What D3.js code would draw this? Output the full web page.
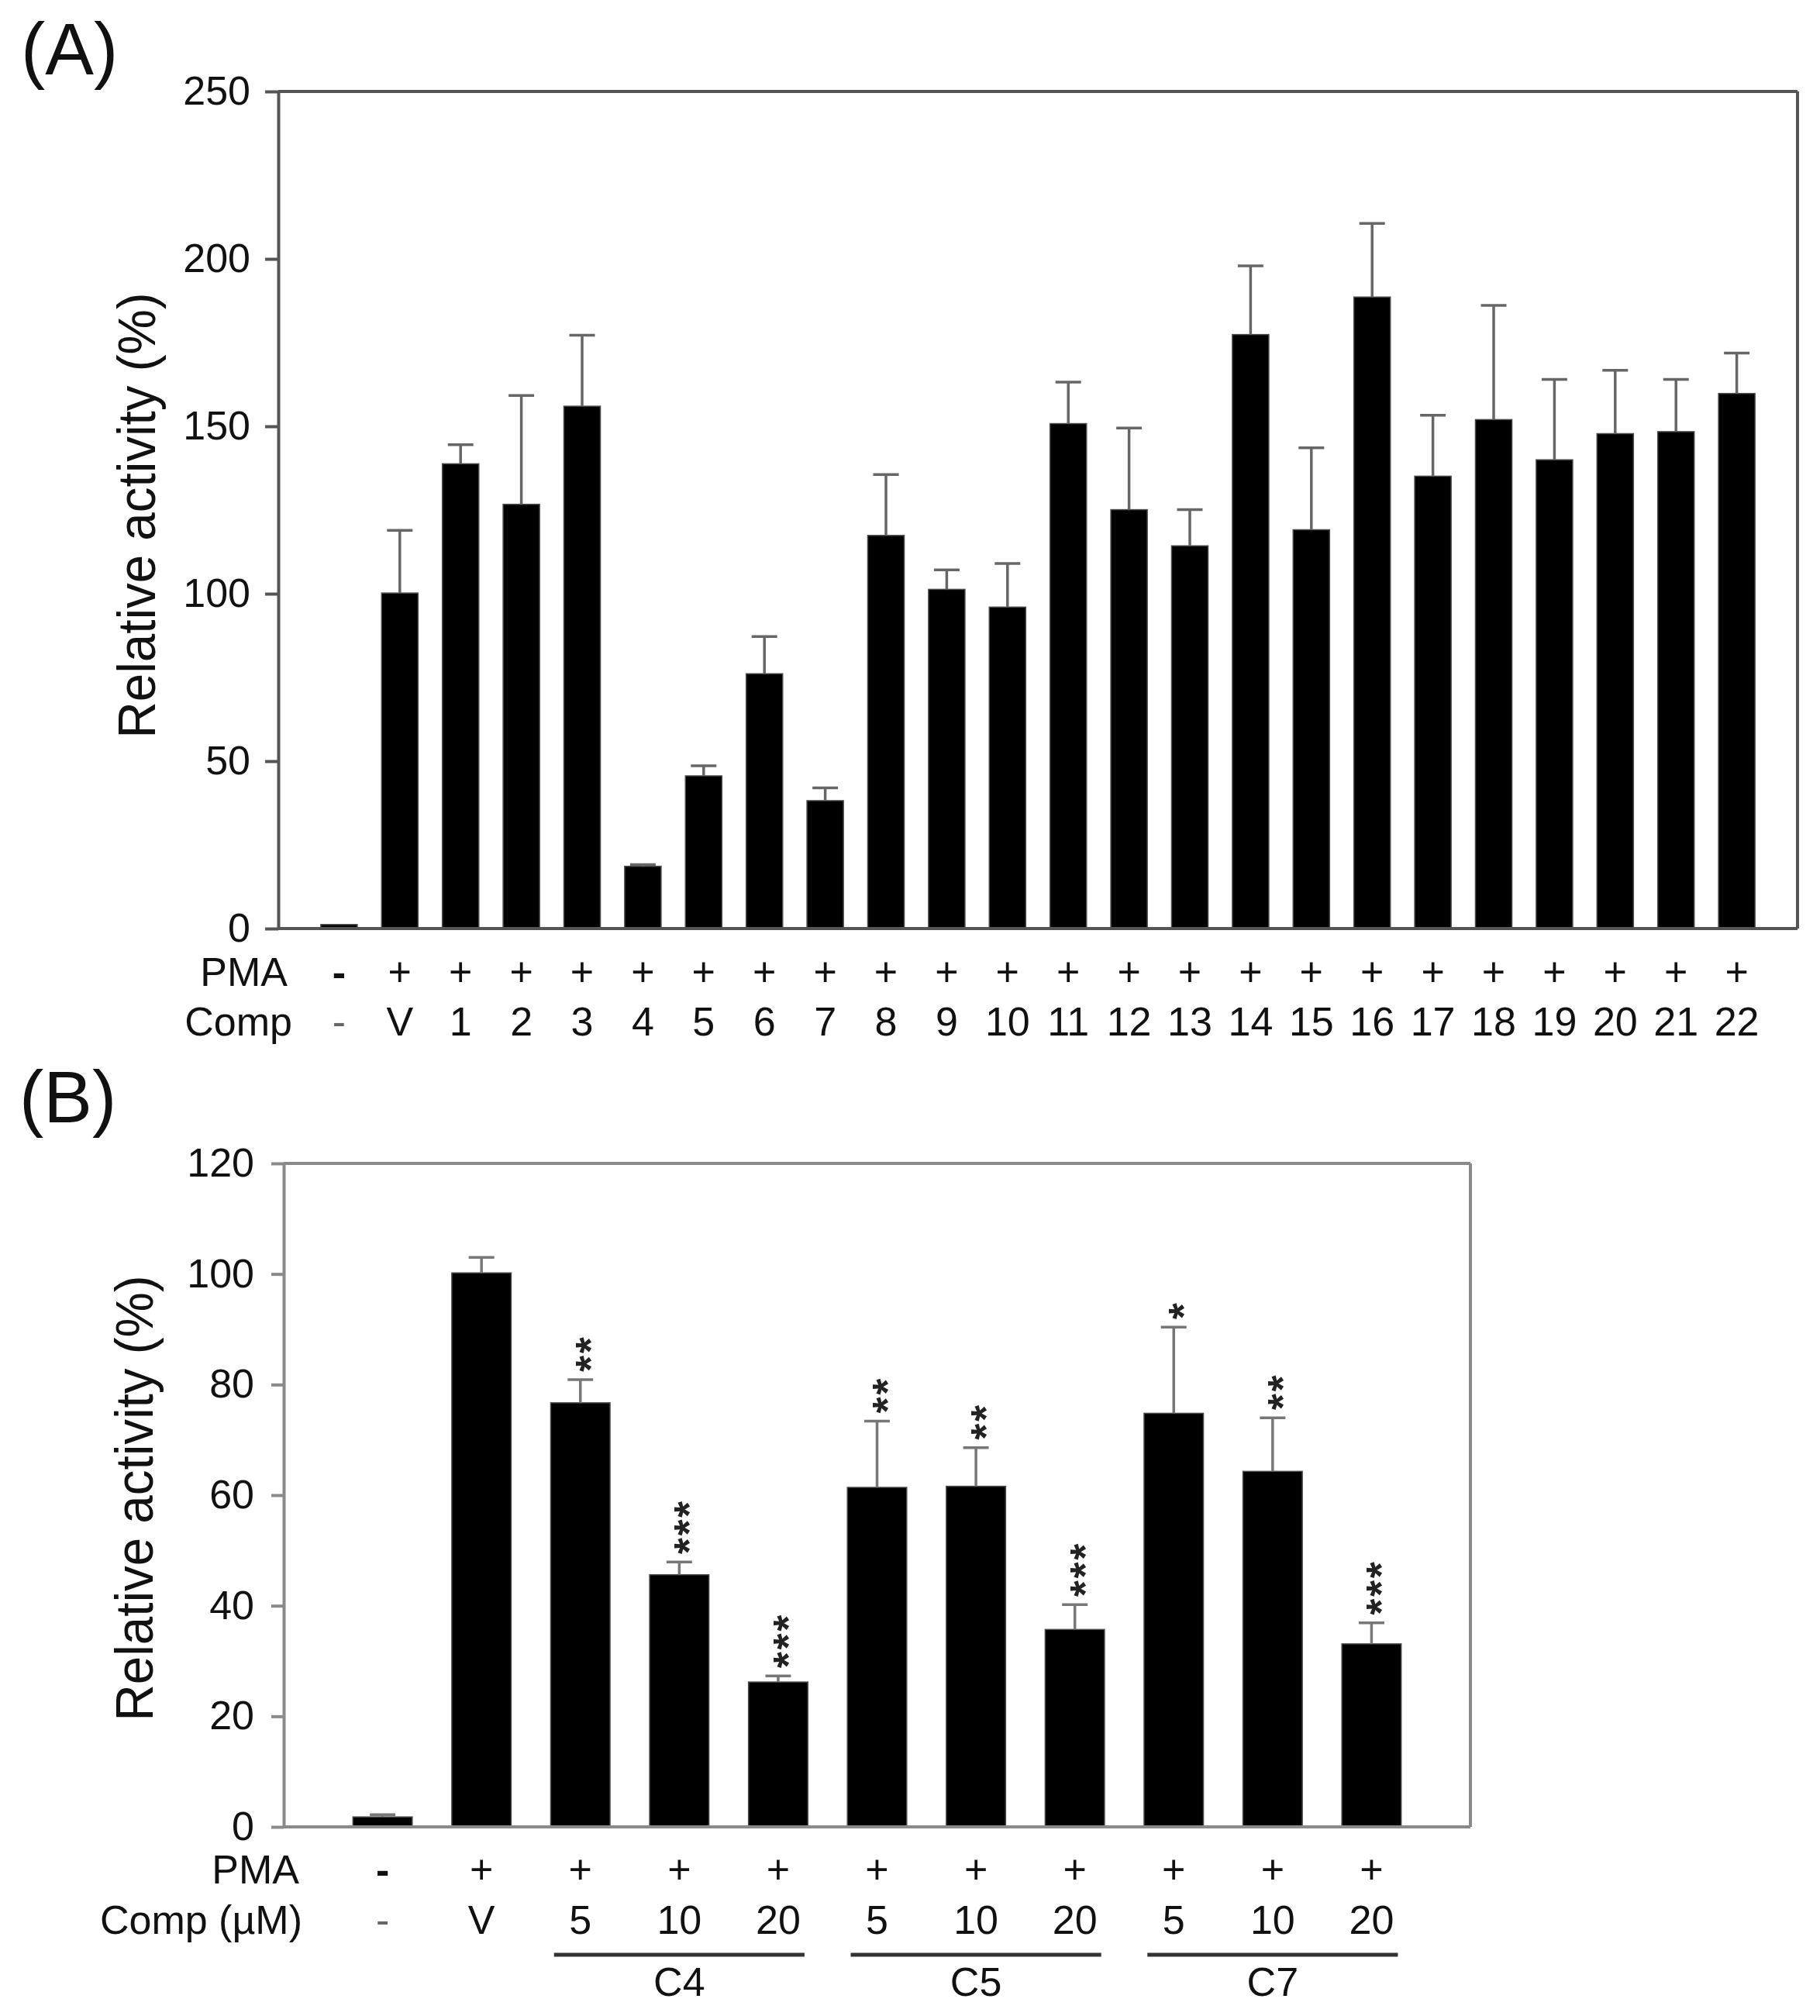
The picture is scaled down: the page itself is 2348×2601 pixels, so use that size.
<!DOCTYPE html>
<html><head><meta charset="utf-8">
<script src="https://cdn.jsdelivr.net/npm/d3@7"></script>
<style>
body{margin:0;background:#fff}
svg{display:block;background:#fff}
text{font-family:"Liberation Sans",Arial,Helvetica,sans-serif;fill:#111}
</style>
</head><body>
<svg id="c" width="2348" height="2601"></svg>
<script>
// ---------- Panel A data ----------
const catsA = ["-","V","1","2","3","4","5","6","7","8","9","10","11","12","13","14","15","16","17","18","19","20","21","22"];
const pmaA  = ["-","+","+","+","+","+","+","+","+","+","+","+","+","+","+","+","+","+","+","+","+","+","+","+"];
const valsA = [1.2,100.2,138.8,126.7,156.0,18.6,45.6,76.1,38.2,117.4,101.3,96.0,150.8,125.1,114.3,177.4,119.1,188.6,135.1,152.0,140.0,147.8,148.4,159.8];
const errA  = [0,18.7,5.7,32.5,21.2,0.5,3.0,11.1,3.8,18.2,5.8,13.0,12.4,24.4,10.8,20.5,24.5,22.0,18.2,34.1,24.0,18.9,15.6,12.1];
const ticksA = [0,50,100,150,200,250];

// ---------- Panel B data ----------
const catsB = ["-","V","5","10","20","5","10","20","5","10","20"];
const pmaB  = ["-","+","+","+","+","+","+","+","+","+","+"];
const valsB = [1.8,100.2,76.7,45.6,26.2,61.4,61.6,35.7,74.8,64.3,33.1];
const errB  = [0.4,2.8,4.2,2.3,1.1,12.0,7.0,4.5,15.6,9.7,3.8];
const starsB = ["","","**","***","***","**","**","***","*","**","***"];
const groupsB = [{name:"C4",from:2,to:4},{name:"C5",from:5,to:7},{name:"C7",from:8,to:10}];
const ticksB = [0,20,40,60,80,100,120];

const svg = d3.select("#c");
const FONT = '"Liberation Sans",Arial,Helvetica,sans-serif';

function panel(opt){
  const g = svg.append("g");
  const x = d3.scalePoint().domain(d3.range(opt.cats.length)).range([opt.left,opt.right]).padding(1);
  const y = d3.scaleLinear().domain(opt.domain).range([opt.bottom,opt.top]);
  const bw = x.step()*0.6;
  const capW = 33;

  // bars
  g.selectAll("rect.bar").data(opt.vals).join("rect")
    .attr("class","bar")
    .attr("x",(d,i)=>x(i)-bw/2)
    .attr("y",d=>y(d))
    .attr("width",bw)
    .attr("height",d=>y(0)-y(d))
    .attr("fill","#000")
    .attr("stroke","#4a4a4a").attr("stroke-width",1.5);

  // error bars
  const eb = g.append("g").attr("stroke",opt.errColor).attr("stroke-width",3.5).attr("fill","none");
  opt.vals.forEach((v,i)=>{
    const e = opt.errs[i];
    if(!e) return;
    eb.append("line").attr("x1",x(i)).attr("x2",x(i)).attr("y1",y(v)).attr("y2",y(v+e));
    eb.append("line").attr("x1",x(i)-capW/2).attr("x2",x(i)+capW/2).attr("y1",y(v+e)).attr("y2",y(v+e));
  });

  // frame
  const fr = g.append("g").attr("stroke",opt.axisColor).attr("stroke-width",4).attr("fill","none");
  fr.append("line").attr("x1",opt.left).attr("x2",opt.right).attr("y1",opt.top).attr("y2",opt.top);
  fr.append("line").attr("x1",opt.right).attr("x2",opt.right).attr("y1",opt.top).attr("y2",opt.bottom);
  fr.append("line").attr("x1",opt.left).attr("x2",opt.right).attr("y1",opt.bottom).attr("y2",opt.bottom);

  // y axis
  const ax = d3.axisLeft(y).tickValues(opt.ticks).tickSize(opt.tickSize).tickPadding(opt.tickPad).tickSizeOuter(0);
  g.append("g").attr("transform",`translate(${opt.left},0)`).call(ax)
    .attr("font-family",FONT).attr("font-size",52)
    .call(a=>a.select(".domain").attr("stroke",opt.axisColor).attr("stroke-width",4))
    .call(a=>a.selectAll(".tick line").attr("stroke",opt.axisColor).attr("stroke-width",4))
    .call(a=>a.selectAll(".tick text").attr("fill","#111"));

  // y title
  g.append("text")
    .attr("transform",`translate(${opt.titleX},${opt.titleY}) rotate(-90)`)
    .attr("text-anchor","middle")
    .attr("font-size",68)
    .attr("textLength",575).attr("lengthAdjust","spacingAndGlyphs")
    .text("Relative activity (%)");

  // panel letter
  g.append("text").attr("x",opt.letterX).attr("y",opt.letterY).attr("font-size",94).text(opt.letter);

  // rows
  g.append("text").attr("x",opt.pmaLabelX).attr("y",opt.pmaY).attr("text-anchor","end").attr("font-size",52).text("PMA");
  g.append("text").attr("x",opt.compLabelX).attr("y",opt.compY).attr("text-anchor","end").attr("font-size",52).text(opt.compLabel);
  g.selectAll("text.pma").data(opt.pma).join("text").attr("class","pma")
    .attr("x",(d,i)=>x(i)).attr("y",opt.pmaY).attr("text-anchor","middle")
    .attr("font-size",52).attr("font-weight",(d,i)=>d==="-"?"bold":"normal")
    .text(d=>d);
  g.selectAll("text.comp").data(opt.cats).join("text").attr("class","comp")
    .attr("x",(d,i)=>x(i)).attr("y",opt.compY).attr("text-anchor","middle")
    .attr("font-size",52)
    .style("fill",d=>d==="-"?"#666":"#111")
    .text(d=>d);

  return {g,x,y};
}

// Panel A
const A = panel({
  cats:catsA, pma:pmaA, vals:valsA, errs:errA, ticks:ticksA, domain:[0,250],
  left:359, right:2319, top:118, bottom:1198,
  axisColor:"#555", errColor:"#666", tickSize:17, tickPad:19,
  titleX:200, titleY:665, letter:"(A)", letterX:27, letterY:96,
  pmaLabelX:371, compLabelX:377, pmaY:1272, compY:1336, compLabel:"Comp"
});

// Panel B
const B = panel({
  cats:catsB, pma:pmaB, vals:valsB, errs:errB, ticks:ticksB, domain:[0,120],
  left:366, right:1897, top:1501, bottom:2357,
  axisColor:"#8a8a8a", errColor:"#777", tickSize:16, tickPad:22,
  titleX:197, titleY:1933, letter:"(B)", letterX:25, letterY:1448,
  pmaLabelX:386, compLabelX:390, pmaY:2430, compY:2495, compLabel:"Comp (\u00B5M)"
});

// significance stars (panel B): stacked vertically, drawn as one rotated text per bar
const starG = B.g.append("g");
starsB.forEach((s,i)=>{
  if(!s) return;
  const top = B.y(valsB[i]+errB[i]);
  starG.append("text")
    .attr("transform",`translate(${B.x(i)+31},${top-10}) rotate(-90)`)
    .attr("text-anchor","start")
    .attr("font-size",54).attr("font-weight","bold")
    .attr("letter-spacing",2.7)
    .style("fill","#222")
    .text(s);
});

// compound group lines (panel B)
const grp = B.g.append("g");
groupsB.forEach(gr=>{
  const x1 = B.x(gr.from)-34, x2 = B.x(gr.to)+34;
  grp.append("line").attr("x1",x1).attr("x2",x2).attr("y1",2522).attr("y2",2522)
    .attr("stroke","#333").attr("stroke-width",5);
  grp.append("text").attr("x",(x1+x2)/2).attr("y",2575).attr("text-anchor","middle")
    .attr("font-size",52).text(gr.name);
});
</script>
</body></html>
